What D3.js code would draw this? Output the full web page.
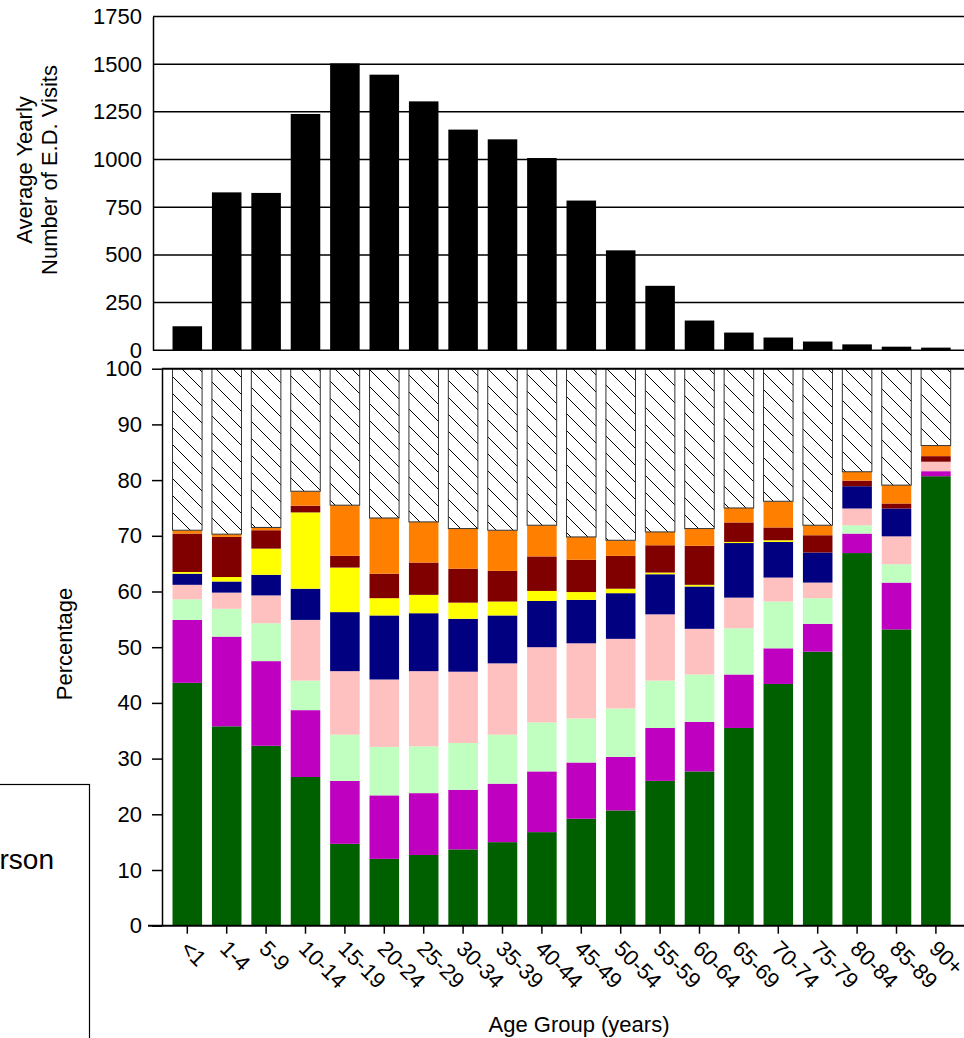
<!DOCTYPE html>
<html>
<head>
<meta charset="utf-8">
<script src="https://cdn.jsdelivr.net/npm/d3@7"></script>
<style>
html,body{margin:0;padding:0;background:#fff;overflow:hidden;}
text{font-family:"Liberation Sans",Arial,sans-serif;fill:#000;}
</style>
</head>
<body>
<svg id="chart" width="964" height="1038"></svg>
<script>
const ages = ["<1","1-4","5-9","10-14","15-19","20-24","25-29","30-34","35-39","40-44","45-49","50-54","55-59","60-64","65-69","70-74","75-79","80-84","85-89","90+"];
const visits = [126, 828, 825, 1239, 1504, 1445, 1305, 1157, 1106, 1008, 785, 524, 338, 156, 93, 67, 46, 31, 19, 14];
const visitTicks = [0, 250, 500, 750, 1000, 1250, 1500, 1750];
const pctTicks = [0, 10, 20, 30, 40, 50, 60, 70, 80, 90, 100];

const green      = [43.6,35.8,32.3,26.7,14.7,12.0,12.7,13.7,15.0,16.8,19.2,20.7,26.0,27.7,35.5,43.4,49.2,66.9,53.2,80.7];
const magenta    = [11.3,16.1,15.2,12.0,11.3,11.4,11.1,10.7,10.5,10.9,10.1,9.6,9.5,8.9,9.6,6.4,5.0,3.5,8.4,0.9];
const lightGreen = [3.7,5.0,6.8,5.3,8.3,8.7,8.4,8.4,8.8,8.8,7.9,8.7,8.5,8.5,8.3,8.4,4.6,1.5,3.3,0];
const pink       = [2.6,2.9,5.0,10.9,11.4,12.1,13.5,12.8,12.8,13.5,13.5,12.5,11.9,8.2,5.5,4.3,2.8,3.0,5.0,1.7];
const navy       = [2.0,2.0,3.7,5.6,10.6,11.5,10.4,9.5,8.6,8.3,7.8,8.2,7.2,7.6,9.8,6.4,5.4,4.0,5.0,0];
const yellow     = [0.3,0.8,4.7,13.7,8.0,3.1,3.3,2.9,2.5,1.8,1.4,0.8,0.3,0.3,0.2,0.3,0,0,0,0];
const darkRed    = [6.9,7.2,3.3,1.2,2.1,4.4,5.8,6.1,5.5,6.2,5.8,5.9,4.9,7.0,3.5,2.3,3.1,1.0,0.9,1.0];
const orange     = [0.6,0.5,0.5,2.6,9.1,10.0,7.3,7.2,7.3,5.6,4.1,2.8,2.4,3.1,2.6,4.7,1.8,1.6,3.3,1.9];
const other      = [29.0,29.7,28.5,22.0,24.5,26.8,27.5,28.7,29.0,28.1,30.2,30.8,29.3,28.7,25.0,23.8,28.1,18.5,20.9,13.8];

const seriesKeys = ["green","magenta","lightGreen","pink","navy","yellow","darkRed","orange","other"];
const seriesValues = {green, magenta, lightGreen, pink, navy, yellow, darkRed, orange, other};
const seriesColors = {green:"#006000", magenta:"#C000C0", lightGreen:"#C0FFC0", pink:"#FFC0C0",
  navy:"#000080", yellow:"#FFFF00", darkRed:"#800000", orange:"#FF8000", other:"url(#hatch)"};

const svg = d3.select("#chart");
const font = 22;

// hatch pattern
const defs = svg.append("defs");
const pat = defs.append("pattern").attr("id","hatch").attr("patternUnits","userSpaceOnUse")
  .attr("width",17).attr("height",17);
pat.append("rect").attr("width",17).attr("height",17).attr("fill","#fff");
pat.append("path").attr("d","M0,0L17,17M-3,14L3,20M14,-3L20,3")
  .attr("stroke","#000").attr("stroke-width",1).attr("fill","none");

const x = d3.scaleBand().domain(ages).range([167.6, 955.6]).paddingInner(0.25).paddingOuter(0.125);

// ---------- top panel ----------
const yTop = d3.scaleLinear().domain([0,1750]).range([350.3, 16.5]);
const topLeft = 153, rightEdge = 980;

svg.append("g").selectAll("line").data(visitTicks.filter(d=>d>0)).join("line")
  .attr("x1",topLeft).attr("x2",rightEdge)
  .attr("y1",d=>yTop(d)).attr("y2",d=>yTop(d))
  .attr("stroke","#000").attr("stroke-width",1.5);

svg.append("g").selectAll("rect").data(ages).join("rect")
  .attr("x",d=>x(d)).attr("width",x.bandwidth())
  .attr("y",(d,i)=>yTop(visits[i]))
  .attr("height",(d,i)=>yTop(0)-yTop(visits[i]))
  .attr("fill","#000");

const topAxis = svg.append("g").attr("transform",`translate(${topLeft},0)`)
  .call(d3.axisLeft(yTop).tickValues(visitTicks).tickSize(0).tickPadding(11).tickFormat(d3.format("d")));
topAxis.select(".domain").attr("stroke","#000").attr("stroke-width",1.5);
topAxis.selectAll("text").attr("font-size",font).attr("font-family","Liberation Sans, Arial, sans-serif");
svg.append("line").attr("x1",topLeft).attr("x2",rightEdge).attr("y1",yTop(0)).attr("y2",yTop(0))
  .attr("stroke","#000").attr("stroke-width",1.5);

svg.append("text").attr("transform","translate(32,170) rotate(-90)")
  .attr("text-anchor","middle").attr("font-size",font).text("Average Yearly");
svg.append("text").attr("transform","translate(57,170) rotate(-90)")
  .attr("text-anchor","middle").attr("font-size",font).text("Number of E.D. Visits");

// ---------- bottom panel ----------
const yBot = d3.scaleLinear().domain([0,100]).range([925.7, 368.7]);
const botLeft = 162;

const table = ages.map((a,i)=>{
  const o = {age:a};
  seriesKeys.forEach(k=>o[k]=seriesValues[k][i]);
  return o;
});
const stacked = d3.stack().keys(seriesKeys)(table);

const segG = svg.append("g");
stacked.forEach(layer=>{
  segG.append("g").selectAll("rect").data(layer).join("rect")
    .attr("x",d=>x(d.data.age)).attr("width",x.bandwidth())
    .attr("y",d=>yBot(d[1]))
    .attr("height",d=>Math.max(0,yBot(d[0])-yBot(d[1])))
    .attr("fill",seriesColors[layer.key])
    .attr("stroke",layer.key==="other" ? "#333" : "none")
    .attr("stroke-width",1);
});

// top frame line of bottom panel
svg.append("line").attr("x1",botLeft).attr("x2",rightEdge).attr("y1",yBot(100)).attr("y2",yBot(100))
  .attr("stroke","#000").attr("stroke-width",2);

const botAxis = svg.append("g").attr("transform",`translate(${botLeft},0)`)
  .call(d3.axisLeft(yBot).tickValues(pctTicks).tickSize(10).tickPadding(10).tickSizeOuter(0));
botAxis.select(".domain").attr("stroke","#000").attr("stroke-width",1.5);
botAxis.selectAll(".tick line").attr("stroke","#000").attr("stroke-width",1.5);
botAxis.selectAll("text").attr("font-size",font).attr("font-family","Liberation Sans, Arial, sans-serif");

const xAxis = svg.append("g").attr("transform",`translate(0,${yBot(0)})`)
  .call(d3.axisBottom(x).tickSize(8).tickSizeOuter(0).tickFormat(""));
xAxis.select(".domain").remove();
xAxis.selectAll(".tick line").attr("stroke","#000").attr("stroke-width",1.5);
svg.append("line").attr("x1",148).attr("x2",rightEdge).attr("y1",yBot(0)).attr("y2",yBot(0))
  .attr("stroke","#000").attr("stroke-width",2);

svg.append("g").selectAll("text").data(ages).join("text")
  .attr("transform",d=>`translate(${x(d)+x.bandwidth()/2-8},950) rotate(45)`)
  .attr("font-size",font).attr("text-anchor","start").text(d=>d);

svg.append("text").attr("transform","translate(72,644) rotate(-90)")
  .attr("text-anchor","middle").attr("font-size",font).text("Percentage");
svg.append("text").attr("x",579).attr("y",1032)
  .attr("text-anchor","middle").attr("font-size",font).text("Age Group (years)");

// legend box (cut off at the left edge in the reference)
svg.append("rect").attr("x",-10).attr("y",784.5).attr("width",99.5).attr("height",280)
  .attr("fill","none").attr("stroke","#000").attr("stroke-width",1.2);
svg.append("text").attr("x",54).attr("y",869).attr("text-anchor","end")
  .attr("font-size",28).text("Person");
</script>
</body>
</html>
